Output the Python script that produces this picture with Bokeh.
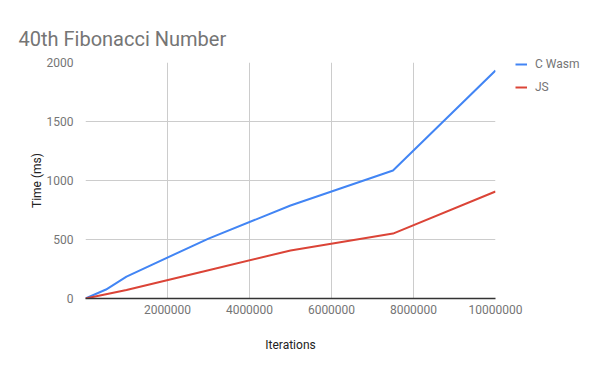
from bokeh.plotting import figure
from bokeh.models import Range1d, FixedTicker, Legend, LegendItem, Title, NumeralTickFormatter
from bokeh.embed import file_html
from bokeh.resources import INLINE

iterations = [0, 500000, 1000000, 3000000, 5000000, 7500000, 10000000]
c_wasm = [0, 76, 186, 508, 788, 1085, 1932]
js = [0, 36, 72, 240, 407, 550, 907]
x_ticks = [2000000, 4000000, 6000000, 8000000, 10000000]
y_ticks = [0, 500, 1000, 1500, 2000]

FONT = "Roboto"
GREY = "#757575"

p = figure(frame_width=410, frame_height=236, output_backend="svg", toolbar_location=None,
           x_range=Range1d(0, 10000000), y_range=Range1d(0, 2000),
           min_border_left=85, min_border_right=89, min_border_top=62, min_border_bottom=57)
p.outline_line_color = None
p.title = None

t = Title(text="40th Fibonacci Number", text_font=FONT, text_font_size="20px",
          text_color=GREY, text_font_style="normal", align="left", offset=-67, standoff=24)
p.add_layout(t, "above")

p.xaxis.ticker = FixedTicker(ticks=x_ticks)
p.yaxis.ticker = FixedTicker(ticks=y_ticks)
p.xaxis.formatter = NumeralTickFormatter(format="0")
for ax in (p.xaxis[0], p.yaxis[0]):
    ax.major_tick_line_color = None
    ax.minor_tick_line_color = None
    ax.major_label_text_font = FONT
    ax.major_label_text_font_size = "12px"
    ax.major_label_text_color = GREY
    ax.axis_label_text_font = FONT
    ax.axis_label_text_font_size = "12px"
    ax.axis_label_text_color = "#222222"
    ax.axis_label_text_font_style = "normal"
p.yaxis.axis_line_color = None
p.xaxis.axis_line_color = "#333333"
p.xaxis.axis_line_width = 1.5
p.xaxis.major_label_standoff = 0
p.yaxis.major_label_standoff = 6
p.xaxis.axis_label = "Iterations"
p.yaxis.axis_label = "Time (ms)"
p.xaxis.axis_label_standoff = 21
p.yaxis.axis_label_standoff = 0

p.xgrid.ticker = FixedTicker(ticks=x_ticks)
p.ygrid.ticker = FixedTicker(ticks=y_ticks)
p.grid.grid_line_color = "#cccccc"

r1 = p.line(iterations, c_wasm, line_color="#4285F4", line_width=2)
r2 = p.line(iterations, js, line_color="#DB4437", line_width=2)

legend = Legend(items=[LegendItem(label="C Wasm", renderers=[r1]),
                       LegendItem(label="JS", renderers=[r2])],
                location=(20, 204), orientation="vertical",
                label_text_font=FONT, label_text_font_size="12px", label_text_color=GREY,
                glyph_width=12, glyph_height=12, label_height=12, spacing=9,
                padding=0, margin=0,
                label_standoff=8, background_fill_alpha=0, border_line_color=None)
p.add_layout(legend, "right")

open("out.html", "w").write(file_html(p, INLINE))
